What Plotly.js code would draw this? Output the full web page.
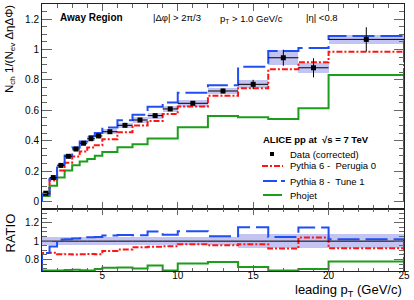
<!DOCTYPE html>
<html>
<head>
<meta charset="utf-8">
<script src="https://cdn.plot.ly/plotly-3.0.1.min.js"></script>
<style>html,body{margin:0;padding:0;background:#fff;}#chart{width:414px;height:300px;}</style>
</head>
<body>
<div id="chart"></div>
<script>
// ---- data ----
const binEdges = [1, 1.5, 2, 2.5, 3, 3.5, 4, 4.5, 5, 6, 7, 8, 9, 10, 12, 14, 16, 18, 20, 25];
const dataVals = [0.054, 0.157, 0.237, 0.297, 0.345, 0.383, 0.413, 0.431, 0.459, 0.501, 0.536, 0.565, 0.609, 0.646, 0.727, 0.771, 0.946, 0.880, 1.067];
const statErr  = [0.004, 0.005, 0.005, 0.006, 0.006, 0.007, 0.007, 0.008, 0.006, 0.007, 0.008, 0.009, 0.010, 0.008, 0.015, 0.030, 0.053, 0.063, 0.080];
const sysErr   = [0.003, 0.006, 0.009, 0.011, 0.013, 0.014, 0.015, 0.016, 0.017, 0.018, 0.019, 0.020, 0.021, 0.022, 0.022, 0.027, 0.050, 0.033, 0.030];
const ratioErr = [0.045, 0.045, 0.045, 0.045, 0.045, 0.045, 0.045, 0.045, 0.045, 0.045, 0.045, 0.045, 0.045, 0.045, 0.045, 0.075, 0.075, 0.075, 0.075];
const pythia6  = [0.047, 0.137, 0.203, 0.255, 0.295, 0.328, 0.355, 0.370, 0.410, 0.455, 0.500, 0.530, 0.575, 0.625, 0.695, 0.745, 0.870, 0.916, 0.985];
const pythia8  = [0.047, 0.148, 0.241, 0.303, 0.355, 0.395, 0.431, 0.450, 0.487, 0.534, 0.571, 0.624, 0.652, 0.715, 0.765, 0.887, 0.990, 1.010, 1.090];
const phojet   = [0.036, 0.103, 0.157, 0.204, 0.238, 0.262, 0.280, 0.300, 0.326, 0.357, 0.376, 0.415, 0.415, 0.488, 0.5625, 0.554, 0.543, 0.613, 0.832];
const xTickVals = [5, 10, 15, 20, 25];

const seriesNames = ['Data (corrected)', 'Pythia 6 -  Perugia 0', 'Pythia 8 -  Tune 1', 'Phojet'];
const colRed = '#ff1414', colBlue = '#1f4ef5', colGreen = '#1c9e1c', colBand = '#c4c4f2';
const dashRed = '6px,2px,2px,2px', dashBlue = '22px,6px';

// ---- derived ----
const n = dataVals.length;
const centers = dataVals.map((_, i) => (binEdges[i] + binEdges[i + 1]) / 2);
const widths = dataVals.map((_, i) => binEdges[i + 1] - binEdges[i]);
const halfW = widths.map(w => w / 2);
const ratioMin = 0.675, ratioMax = 1.35, ratioFloor = 0.681;

function stepXY(vals) {
  const xs = [binEdges[0]].concat(binEdges).concat([binEdges[n]]);
  const ys = [0].concat(vals).concat([vals[n - 1], 0]);
  return {xs, ys};
}
function ratioOf(vals) { return vals.map((v, i) => Math.max(v / dataVals[i], ratioFloor)); }

const traces = [];
// systematic boxes (top)
traces.push({type: 'bar', x: centers, width: widths, base: dataVals.map((v, i) => v - sysErr[i]),
  y: sysErr.map(s => 2 * s), marker: {color: colBand, line: {width: 0}}, xaxis: 'x', yaxis: 'y',
  hoverinfo: 'skip', showlegend: false});
// ratio band (bottom)
traces.push({type: 'bar', x: centers, width: widths, base: ratioErr.map(r => 1 - r),
  y: ratioErr.map(r => 2 * r), marker: {color: colBand, line: {width: 0}}, xaxis: 'x2', yaxis: 'y2',
  hoverinfo: 'skip', showlegend: false});

const models = [
  {vals: phojet, color: colGreen, dash: 'solid'},
  {vals: pythia6, color: colRed, dash: dashRed},
  {vals: pythia8, color: colBlue, dash: dashBlue}
];
models.forEach(m => {
  const s = stepXY(m.vals);
  traces.push({type: 'scatter', mode: 'lines', x: s.xs, y: s.ys, line: {shape: 'hv', color: m.color, width: 2, dash: m.dash},
    xaxis: 'x', yaxis: 'y', showlegend: false, hoverinfo: 'skip'});
  const r = stepXY(ratioOf(m.vals));
  traces.push({type: 'scatter', mode: 'lines', x: r.xs, y: r.ys, line: {shape: 'hv', color: m.color, width: 2, dash: m.dash},
    xaxis: 'x2', yaxis: 'y2', showlegend: false, hoverinfo: 'skip'});
});
// data ratio line (data/data)
const dr = dataVals.map((v) => v / v);
traces.push({type: 'scatter', mode: 'lines', x: [binEdges[0]].concat(binEdges.slice(1)), y: [dr[0]].concat(dr),
  line: {shape: 'hv', color: '#000', width: 1}, xaxis: 'x2', yaxis: 'y2', showlegend: false, hoverinfo: 'skip'});
// data points
traces.push({type: 'scatter', mode: 'markers', x: centers, y: dataVals,
  marker: {symbol: 'square', size: 5, color: '#000'},
  error_x: {type: 'data', array: halfW, width: 0, thickness: 1, color: '#000'},
  error_y: {type: 'data', array: statErr, width: 0, thickness: 1, color: '#000'},
  xaxis: 'x', yaxis: 'y', showlegend: false, hoverinfo: 'skip'});

// ---- layout helpers (pixel -> paper) ----
const L = 42, R = 10, T = 4, B = 29, W = 414, H = 300;
const pw = W - L - R, ph = H - T - B;
const xp = px => (px - L) / pw;
const yp = py => (H - B - py) / ph;
const split = (H - B - 209) / ph;

const font = 'Liberation Sans, Arial, Helvetica, sans-serif';
const axisCommon = {showgrid: false, zeroline: false, showline: true, linecolor: '#222', linewidth: 1,
  ticks: 'inside', tickcolor: '#666', mirror: 'ticks', tickfont: {family: font, size: 10, color: '#000'}};

const annotations = [
  {text: '<b>Away Region</b>', x: xp(58), y: yp(17), size: 10},
  {text: '|Δφ| > 2π/3', x: xp(151), y: yp(17), size: 9.5},
  {text: 'p<sub>T</sub> > 1.0 GeV/c', x: xp(218), y: yp(18.5), size: 9.5},
  {text: '|η| <0.8', x: xp(304), y: yp(17), size: 9.5},
  {text: '<b>ALICE pp at  √s = 7 TeV</b>', x: xp(261), y: yp(139), size: 9.5},
  {text: seriesNames[0], x: xp(288), y: yp(154), size: 9.5},
  {text: seriesNames[1], x: xp(288), y: yp(166), size: 9.5},
  {text: seriesNames[2], x: xp(288), y: yp(181), size: 9.5},
  {text: seriesNames[3], x: xp(288), y: yp(195), size: 9.5}
].map(a => ({xref: 'paper', yref: 'paper', x: a.x, y: a.y, xanchor: 'left', yanchor: 'middle', showarrow: false,
  text: a.text, font: {family: font, size: a.size, color: '#000'}}));

annotations.push({xref: 'paper', yref: 'paper', x: 1, y: yp(290), xanchor: 'right', yanchor: 'middle', showarrow: false,
  text: 'leading p<sub>T</sub> (GeV/c)', font: {family: font, size: 13, color: '#000'}});
annotations.push({xref: 'paper', yref: 'paper', x: xp(10), y: yp(3), xanchor: 'center', yanchor: 'top', showarrow: false,
  textangle: -90, text: 'N<sub>ch</sub> 1/(N<sub>ev</sub> ΔηΔΦ)', font: {family: font, size: 11.5, color: '#000'}});
annotations.push({xref: 'paper', yref: 'paper', x: xp(10), y: yp(212), xanchor: 'center', yanchor: 'top', showarrow: false,
  textangle: -90, text: 'RATIO', font: {family: font, size: 13, color: '#000'}});

const shapes = [
  {type: 'rect', xref: 'paper', yref: 'paper', x0: xp(270), x1: xp(274), y0: yp(156), y1: yp(152), fillcolor: '#000', line: {width: 0}},
  {type: 'line', xref: 'paper', yref: 'paper', x0: xp(262), x1: xp(283), y0: yp(166), y1: yp(166), line: {color: colRed, width: 2, dash: dashRed}},
  {type: 'line', xref: 'paper', yref: 'paper', x0: xp(263), x1: xp(285), y0: yp(181), y1: yp(181), line: {color: colBlue, width: 2, dash: '14px,4px'}},
  {type: 'line', xref: 'paper', yref: 'paper', x0: xp(263), x1: xp(282), y0: yp(195), y1: yp(195), line: {color: colGreen, width: 2}}
];

const layout = {
  width: W, height: H, margin: {l: L, r: R, t: T, b: B, pad: 0},
  paper_bgcolor: '#fff', plot_bgcolor: '#fff', showlegend: false, barmode: 'overlay', bargap: 0,
  font: {family: font, size: 10, color: '#000'},
  xaxis: Object.assign({}, axisCommon, {domain: [0, 1], anchor: 'y', range: [1, 25], tickvals: xTickVals, showticklabels: false,
    ticklen: 7, minor: {dtick: 1, tick0: 0, ticklen: 4, ticks: 'inside', tickcolor: '#666'}}),
  yaxis: Object.assign({}, axisCommon, {domain: [split, 1], anchor: 'x', range: [-0.05, 1.3], dtick: 0.2, tick0: 0,
    ticklen: 10, minor: {dtick: 0.05, tick0: 0, ticklen: 5, ticks: 'inside', tickcolor: '#666'}}),
  xaxis2: Object.assign({}, axisCommon, {domain: [0, 1], anchor: 'y2', range: [1, 25], tickvals: xTickVals,
    ticklen: 6, ticklabelstandoff: -5, minor: {dtick: 1, tick0: 0, ticklen: 3, ticks: 'inside', tickcolor: '#666'}}),
  yaxis2: Object.assign({}, axisCommon, {domain: [0, split], anchor: 'x2', range: [ratioMin, ratioMax], dtick: 0.2, tick0: 0,
    ticklen: 10, minor: {dtick: 0.05, tick0: 0, ticklen: 5, ticks: 'inside', tickcolor: '#666'}}),
  annotations: annotations, shapes: shapes
};

Plotly.newPlot('chart', traces, layout, {staticPlot: true, displayModeBar: false});
</script>
</body>
</html>
